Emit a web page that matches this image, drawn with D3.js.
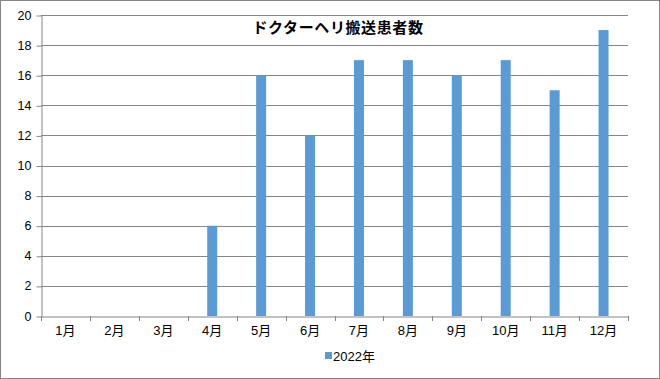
<!DOCTYPE html>
<html><head><meta charset="utf-8">
<script src="https://cdn.jsdelivr.net/npm/d3@7"></script>
<style>body{margin:0;background:#fff}svg{display:block}</style>
</head><body>
<script>
const categories = ["1月","2月","3月","4月","5月","6月","7月","8月","9月","10月","11月","12月"];
const values2022 = [0,0,0,6,16,12,17,17,16,17,15,19];
const yTicks = [0,2,4,6,8,10,12,14,16,18,20];
const seriesName = "2022年";
const title = "ドクターヘリ搬送患者数";

const W = 660, H = 379;
const m = {left: 41, right: 628, top: 15, bottom: 316};
const font = "'Liberation Sans', Arial, 'Noto Sans CJK JP', sans-serif";
const svg = d3.select("body").append("svg").attr("width", W).attr("height", H);
svg.append("rect").attr("x",0.5).attr("y",0.5).attr("width",W-1).attr("height",H-1)
  .attr("fill","#fff").attr("stroke","#868686");

const x = d3.scaleBand().domain(categories).range([m.left, m.right]);
const y = d3.scaleLinear().domain([0,20]).range([m.bottom, m.top]);

// gridlines
svg.append("g").selectAll("line").data(yTicks.filter(d=>d>0)).join("line")
  .attr("x1", m.left).attr("x2", m.right)
  .attr("y1", d=>Math.round(y(d))+0.5).attr("y2", d=>Math.round(y(d))+0.5)
  .attr("stroke","#868686").attr("stroke-width",1);

// y axis
const ya = svg.append("g").attr("transform",`translate(${m.left+0.5},0)`)
  .call(d3.axisLeft(y).tickValues(yTicks).tickSize(5).tickPadding(5).tickSizeOuter(0));
ya.select(".domain").attr("stroke","#868686");
ya.selectAll(".tick line").attr("stroke","#868686").attr("transform","translate(0,0.5)");
ya.selectAll(".tick text").attr("font-family",font).attr("font-size","12.5px").attr("fill","#000");

// x axis
const xa = svg.append("g").attr("transform",`translate(0,${Math.round(m.bottom)+0.5})`)
  .call(d3.axisBottom(x).tickSize(0).tickPadding(9).tickSizeOuter(0));
xa.select(".domain").attr("stroke","#868686");
xa.selectAll(".tick text").attr("font-family",font).attr("font-size","13px").attr("fill","#000");
// boundary ticks
const bounds = categories.map(c=>x(c)).concat([m.right]);
svg.append("g").selectAll("line").data(bounds).join("line")
  .attr("x1",d=>Math.round(d)+0.5).attr("x2",d=>Math.round(d)+0.5)
  .attr("y1",m.bottom).attr("y2",m.bottom+5).attr("stroke","#868686");

// bars
const bw = 10;
svg.append("g").selectAll("rect").data(values2022.map((v,i)=>({c:categories[i],v}))).join("rect")
  .attr("x", d=>x(d.c)+x.bandwidth()/2-bw/2)
  .attr("width", bw)
  .attr("y", d=>y(d.v))
  .attr("height", d=>y(0)-y(d.v))
  .attr("fill","#5B9BD5");

// title
svg.append("text").attr("x",338).attr("y",33).attr("text-anchor","middle")
  .attr("font-family","'Noto Sans CJK JP', sans-serif").attr("font-weight","bold")
  .attr("font-size","15px").attr("letter-spacing","0.6px").text(title);

// legend
svg.append("rect").attr("x",325).attr("y",352).attr("width",7).attr("height",7).attr("fill","#5B9BD5");
svg.append("text").attr("x",333).attr("y",361).attr("font-family",font).attr("font-size","13px")
  .text(seriesName);
</script>
</body></html>
